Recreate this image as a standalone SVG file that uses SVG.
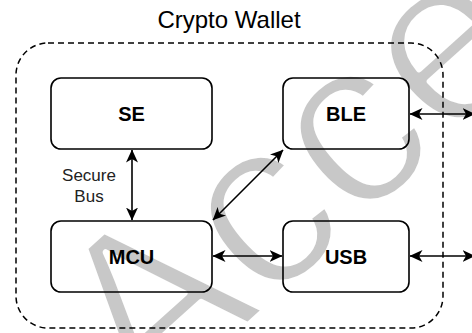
<svg xmlns="http://www.w3.org/2000/svg" width="472" height="333" viewBox="0 0 472 333">
  <defs>
    <style>
      .title { font-family: "Liberation Sans", Arial, sans-serif; font-size: 24px; fill: #000; text-anchor: middle; }
      .label { font-family: "Liberation Sans", Arial, sans-serif; font-size: 20px; font-weight: bold; fill: #000; text-anchor: middle; }
      .edge-label { font-family: "Liberation Sans", Arial, sans-serif; font-size: 17px; fill: #222; text-anchor: middle; }
      .node { fill: none; stroke: #000; stroke-width: 1.6; }
      .container { fill: none; stroke: #000; stroke-width: 1.5; stroke-dasharray: 6 4; }
      .edge { stroke: #000; stroke-width: 1.6; fill: none; marker-start: url(#arrow); marker-end: url(#arrow); }
      .watermark { font-family: "Liberation Sans", Arial, sans-serif; font-size: 242px; fill: #c8c8c8; stroke: #fff; stroke-width: 6; stroke-linejoin: round; }
    </style>
    <marker id="arrow" viewBox="0 0 13 12" markerWidth="13" markerHeight="12" refX="12.5" refY="6" orient="auto-start-reverse" markerUnits="userSpaceOnUse">
      <path d="M0,0 L13,6 L0,12 L3.5,6 Z" fill="#000"/>
    </marker>
  </defs>
  <rect width="472" height="333" fill="#fff"/>
  <text class="watermark" transform="translate(145.5 417.5) rotate(-42)">Accepted</text>
  <g id="container">
    <rect class="container" x="16" y="43" width="427" height="285" rx="32" ry="32"/>
    <text class="title" x="229" y="28">Crypto Wallet</text>
  </g>
  <g id="SE">
    <rect class="node" x="51" y="78" width="161" height="71" rx="10" ry="10"/>
    <text class="label" x="131.5" y="121">SE</text>
  </g>
  <g id="BLE">
    <rect class="node" x="283" y="78" width="126" height="71" rx="10" ry="10"/>
    <text class="label" x="346" y="121">BLE</text>
  </g>
  <g id="MCU">
    <rect class="node" x="51" y="221" width="161" height="71" rx="10" ry="10"/>
    <text class="label" x="131.5" y="264">MCU</text>
  </g>
  <g id="USB">
    <rect class="node" x="283" y="221" width="126" height="71" rx="10" ry="10"/>
    <text class="label" x="346" y="264">USB</text>
  </g>
  <g id="connectors">
    <line class="edge" x1="132" y1="150" x2="132" y2="220"/>
    <line class="edge" x1="213" y1="220" x2="283" y2="150"/>
    <line class="edge" x1="213" y1="256" x2="282" y2="256"/>
    <line class="edge" x1="410" y1="114" x2="475" y2="114"/>
    <line class="edge" x1="410" y1="256" x2="475" y2="256"/>
    <text class="edge-label" x="89" y="181">Secure</text>
    <text class="edge-label" x="89" y="202">Bus</text>
  </g>
</svg>
